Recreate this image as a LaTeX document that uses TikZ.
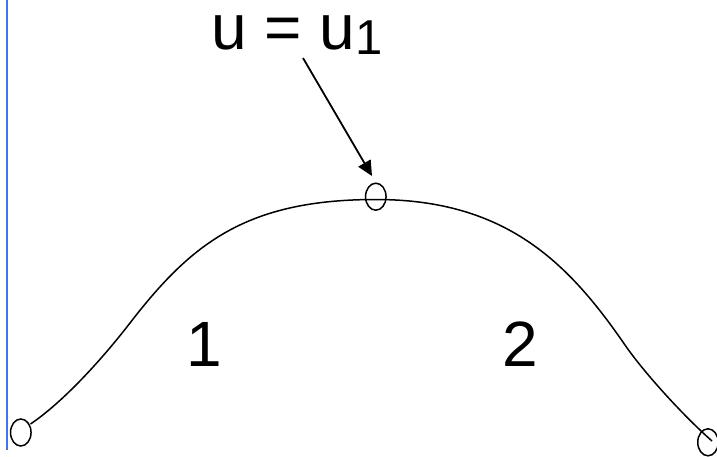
\documentclass[tikz,border=0pt]{standalone}
\usepackage{fontspec}
\setmainfont{Liberation Sans}
\usetikzlibrary{shapes.geometric,arrows.meta}
\definecolor{edgeblue}{RGB}{66,112,248}
\begin{document}
\begin{tikzpicture}[x=1pt,y=-1pt,
  knot/.style={draw,ellipse,inner sep=0pt,minimum width=20.5pt,minimum height=27pt,line width=1.5pt},
  bigtext/.style={inner sep=0pt,font=\fontsize{64}{64}\selectfont},
  curve/.style={line width=1.5pt}]
\useasboundingbox (0,0) rectangle (717,457);
\draw[edgeblue,line width=2.5pt] (7,0) -- (7,450);
\node[knot] (k0) at (20.8,432.5) {};
\node[knot] (k1) at (375.8,196.7) {};
\node[knot] (k2) at (708,442.3) {};
\coordinate (c0) at (30.5,424);
\coordinate (m1) at (130,323);
\coordinate (top) at (375.8,199.5);
\coordinate (m2) at (625,345);
\coordinate (c3) at (712,441);
\draw[curve] (c0) .. controls (63.7,401.6) and (102.5,358.6) .. (m1)
  .. controls (191,244) and (245.8,199.5) .. (top)
  .. controls (505.8,199.5) and (568.3,262.6) .. (m2)
  .. controls (644.8,373.8) and (685.6,417.9) .. (c3);
\node[bigtext,anchor=base west] (t) at (211,50) {u = u\raisebox{-5pt}{\fontsize{49}{49}\selectfont 1}};
\coordinate (as) at (303,58);
\coordinate (ae) at (372,176);
\draw[line width=1.8pt,-{Triangle[length=15pt,width=14pt]}] (as) -- (ae);
\node[bigtext,anchor=base] (l1) at (204,366.7) {1};
\node[bigtext,anchor=base] (l2) at (519.8,366.7) {2};
\end{tikzpicture}
\end{document}
